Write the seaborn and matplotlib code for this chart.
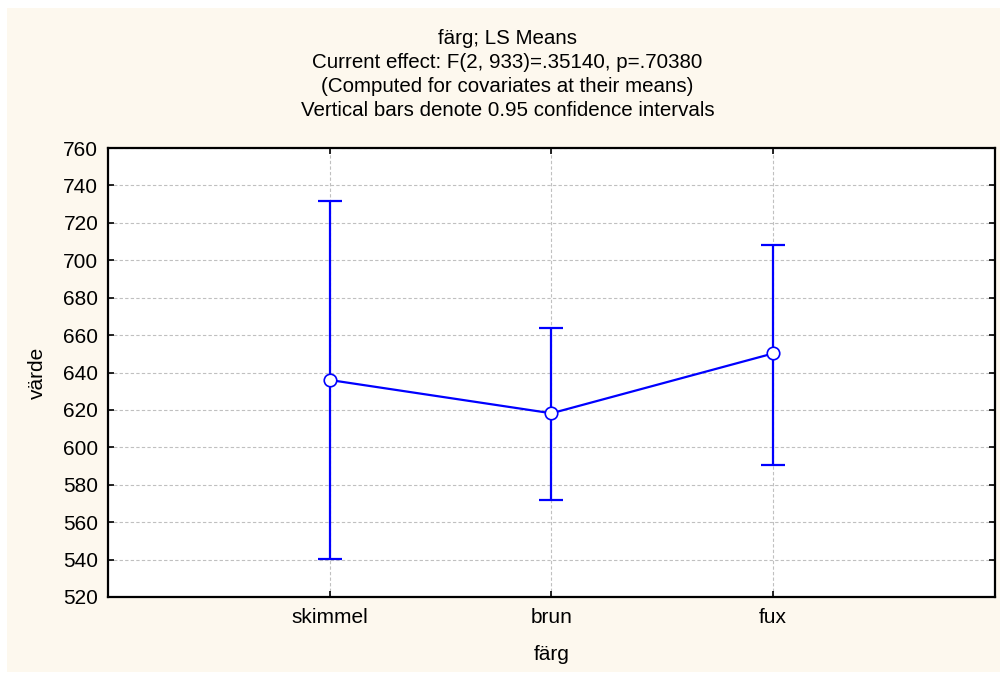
import matplotlib
matplotlib.use("Agg")
import matplotlib.pyplot as plt
import seaborn as sns
import pandas as pd
from matplotlib.patches import Rectangle

categories = ["skimmel", "brun", "fux"]
means = [636.0, 618.2, 650.2]
ci_low = [540.3, 572.0, 590.6]
ci_high = [731.7, 663.8, 708.2]

title_lines = [
    "färg; LS Means",
    "Current effect: F(2, 933)=.35140, p=.70380",
    "(Computed for covariates at their means)",
    "Vertical bars denote 0.95 confidence intervals",
]

sns.set_style("ticks")
plt.rcParams["font.family"] = ["Liberation Sans", "DejaVu Sans"]
plt.rcParams["text.color"] = "black"
plt.rcParams["axes.labelcolor"] = "black"

df = pd.DataFrame({"färg": categories, "värde": means})

fig = plt.figure(figsize=(10.03, 6.75), dpi=100, facecolor="white")
bg = Rectangle((7 / 1003, 3 / 675), 993 / 1003, 664 / 675,
               transform=fig.transFigure, facecolor="#fdf8ee",
               edgecolor="none", zorder=-10)
fig.patches.append(bg)
ax = fig.add_axes([108 / 1003, 1 - 597 / 675, 887 / 1003, 449 / 675])
ax.set_zorder(5)
ax.set_facecolor("white")

blue = "#0000ff"
yerr = [[m - lo for m, lo in zip(means, ci_low)],
        [hi - m for m, hi in zip(means, ci_high)]]
ax.errorbar(range(len(categories)), means, yerr=yerr, fmt="none",
            ecolor=blue, elinewidth=1.6, capsize=8.5, capthick=1.6, zorder=2)
sns.pointplot(data=df, x="färg", y="värde", errorbar=None, color=blue,
              markers="o", linestyles="-", ax=ax, zorder=3,
              markerfacecolor="white", markeredgecolor=blue,
              markersize=9, markeredgewidth=1.2, linewidth=1.6)

ax.set_xlim(-1, 3)
ax.set_ylim(520, 760)
ax.set_yticks(range(520, 761, 20))
ax.grid(True, linestyle=(0, (3, 2)), color="#c0c0c0", linewidth=0.8)
ax.set_axisbelow(True)
ax.tick_params(direction="in", length=4, width=1.2, labelsize=15,
               top=True, right=True, labelcolor="black", color="black")
ax.tick_params(axis="x", pad=8)
ax.tick_params(axis="y", pad=7)
for s in ax.spines.values():
    s.set_linewidth(1.6)
    s.set_color("black")

ax.set_xlabel("färg", fontsize=15, labelpad=13)
ax.set_ylabel("värde", fontsize=15, labelpad=12)

for i, line in enumerate(title_lines):
    fig.text(0.5 + 6 / 1003, 1 - (38 + 24 * i) / 675, line, ha="center",
             va="center", fontsize=14.8)

fig.savefig("out.png", dpi=100)
